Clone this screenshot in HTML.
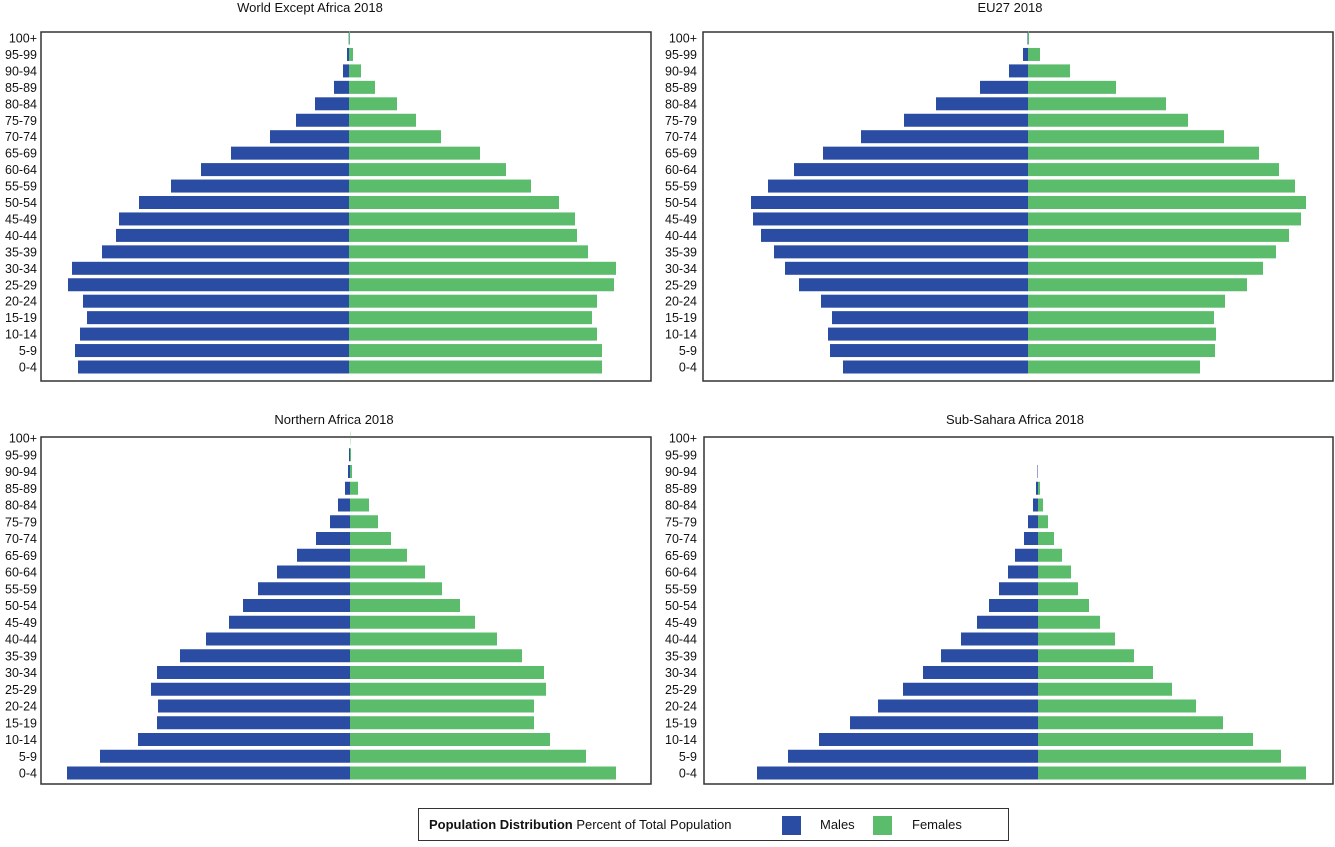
<!DOCTYPE html>
<html><head><meta charset="utf-8"><style>
body{margin:0;background:#fff;width:1335px;height:842px;overflow:hidden;font-family:"Liberation Sans",sans-serif}
svg text{font-family:"Liberation Sans",sans-serif;fill:#111}
</style></head><body>
<svg id="c" width="1335" height="842" xmlns="http://www.w3.org/2000/svg"></svg>
<script>
const ageGroups=["0-4","5-9","10-14","15-19","20-24","25-29","30-34","35-39","40-44","45-49","50-54","55-59","60-64","65-69","70-74","75-79","80-84","85-89","90-94","95-99","100+"];
const worldMales=[2.71,2.74,2.69,2.62,2.66,2.81,2.77,2.47,2.33,2.30,2.10,1.78,1.48,1.18,0.79,0.53,0.34,0.15,0.06,0.02,0.003];
const worldFemales=[2.53,2.53,2.48,2.43,2.48,2.65,2.67,2.39,2.28,2.26,2.10,1.82,1.57,1.31,0.92,0.67,0.48,0.26,0.12,0.04,0.01];
const euMales=[1.85,1.98,2.00,1.96,2.07,2.29,2.43,2.54,2.67,2.75,2.77,2.60,2.34,2.05,1.67,1.24,0.92,0.48,0.19,0.05,0.005];
const euFemales=[1.72,1.87,1.88,1.86,1.97,2.19,2.35,2.48,2.61,2.73,2.78,2.67,2.51,2.31,1.96,1.60,1.38,0.88,0.42,0.12,0.01];
const nafMales=[2.83,2.50,2.12,1.93,1.92,1.99,1.93,1.70,1.44,1.21,1.07,0.92,0.73,0.53,0.34,0.20,0.12,0.05,0.02,0.01,0];
const nafFemales=[2.66,2.36,2.00,1.84,1.84,1.96,1.94,1.72,1.47,1.25,1.10,0.92,0.75,0.57,0.41,0.28,0.19,0.08,0.02,0.01,0.003];
const ssaMales=[2.81,2.50,2.19,1.88,1.60,1.35,1.15,0.97,0.77,0.61,0.49,0.39,0.30,0.23,0.14,0.10,0.05,0.02,0.005,0,0];
const ssaFemales=[2.68,2.43,2.15,1.85,1.58,1.34,1.15,0.96,0.77,0.62,0.51,0.40,0.33,0.24,0.16,0.10,0.05,0.02,0,0,0];
const panelTitles=["World Except Africa 2018","EU27 2018","Northern Africa 2018","Sub-Sahara Africa 2018"];

const NS="http://www.w3.org/2000/svg",svg=document.getElementById('c');
function mk(t,a,p){const e=document.createElementNS(NS,t);for(const k in a)e.setAttribute(k,a[k]);(p||svg).appendChild(e);return e;}
const panels=[
 {name:"world-except-africa",m:worldMales,f:worldFemales,x0:41,x1:651,y0:32,y1:381,cx:349,top:38,bot:367,tx:310,ty:12,lx:37},
 {name:"eu27",m:euMales,f:euFemales,x0:703,x1:1333,y0:32,y1:381,cx:1028,top:38,bot:367,tx:1010,ty:12,lx:697},
 {name:"northern-africa",m:nafMales,f:nafFemales,x0:41,x1:651,y0:437,y1:784,cx:350,top:438,bot:773,tx:334,ty:424,lx:37},
 {name:"sub-sahara-africa",m:ssaMales,f:ssaFemales,x0:704,x1:1333,y0:437,y1:784,cx:1038,top:438,bot:773,tx:1015,ty:424,lx:697}
];
panels.forEach((p,pi)=>{
 const g=mk('g',{});
 
 
 const xs=v=>v*100;
 const ys=i=>p.bot-i*(p.bot-p.top)/(ageGroups.length-1);
 const t=mk('text',{x:p.tx,y:p.ty,'text-anchor':'middle','font-size':13},g);t.textContent=panelTitles[pi];
 
 
 const r=mk('rect',{x:p.x0,y:p.y0,width:p.x1-p.x0,height:p.y1-p.y0,fill:'none',stroke:'#333','stroke-width':1.5},g);
 
 
 ageGroups.forEach((a,i)=>{
  const y=ys(i);
  const l=mk('text',{x:p.lx,y:y+4.5,'text-anchor':'end','font-size':12.5},g);l.textContent=a;
  
  
  const wm=xs(p.m[i]);
  const bm=mk('rect',{x:p.cx-wm,y:y-6.5,width:Math.max(wm,0),height:13,fill:'#2a4ca2'},g);
  
  
  const wf=xs(p.f[i]);
  const bf=mk('rect',{x:p.cx,y:y-6.5,width:Math.max(wf,0),height:13,fill:'#5bbd6b'},g);
  
  
 });
});
</script>
<div style="position:absolute;left:418px;top:808px;width:589px;height:31px;border:1.5px solid #333;box-sizing:content-box;font-size:13px;color:#111">
 <span style="position:absolute;left:10px;top:8px"><b>Population Distribution</b> Percent of Total Population</span>
 <span style="position:absolute;left:363px;top:7px;width:19px;height:19px;background:#2a4ca2"></span>
 <span style="position:absolute;left:401px;top:8px">Males</span>
 <span style="position:absolute;left:454px;top:7px;width:19px;height:19px;background:#5bbd6b"></span>
 <span style="position:absolute;left:493px;top:8px">Females</span>
</div>
</body></html>
